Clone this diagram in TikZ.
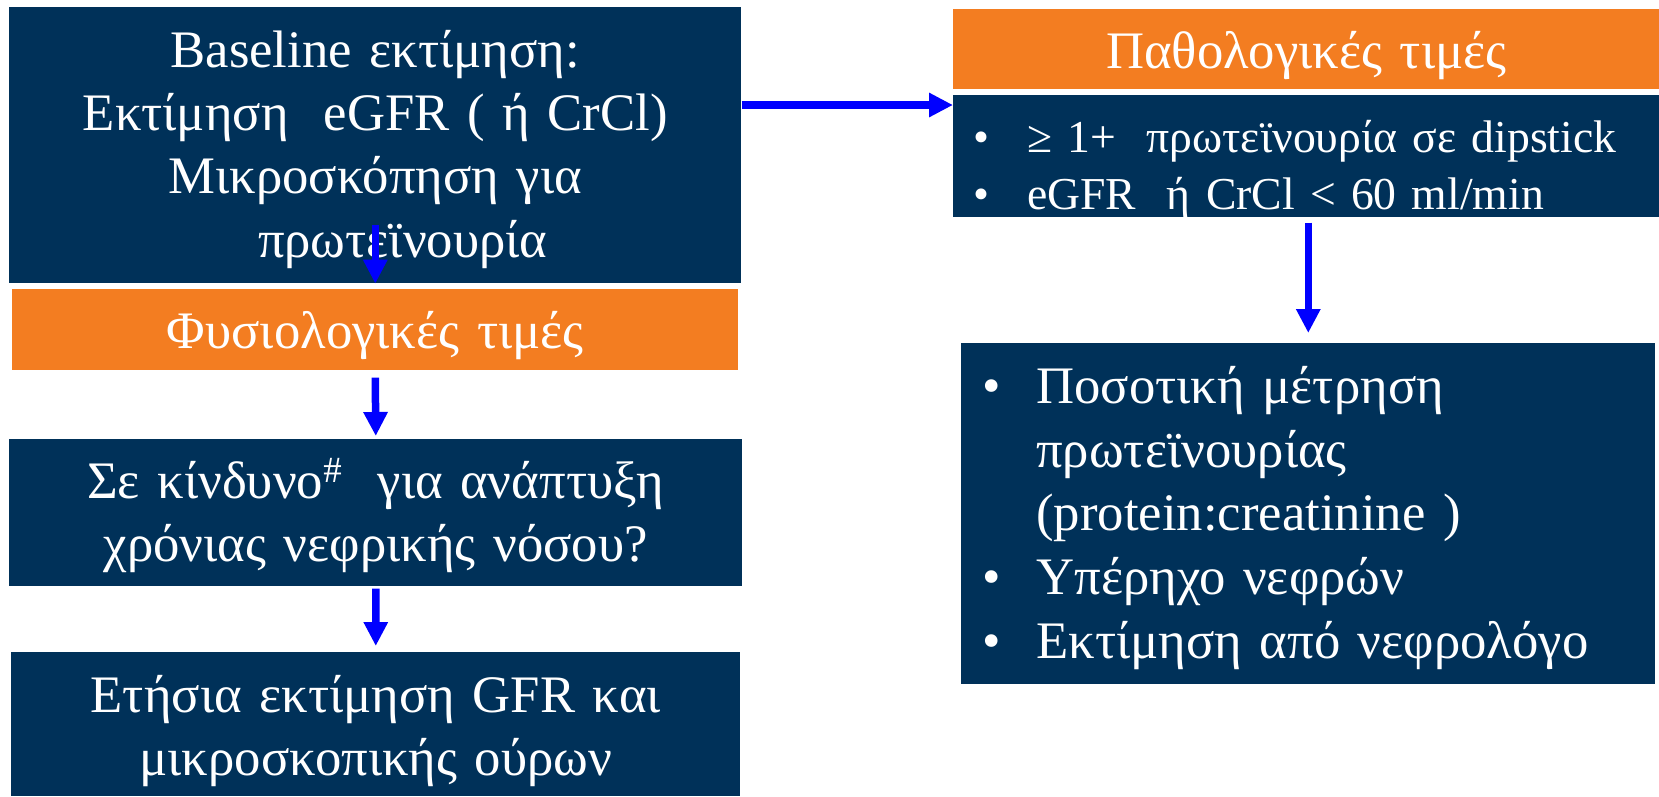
\documentclass[tikz,border=0pt]{standalone}
\usepackage{fontspec}
\setmainfont{Liberation Serif}
\usetikzlibrary{arrows.meta}
\definecolor{navy}{RGB}{0,49,89}
\definecolor{tangerine}{RGB}{243,125,33}
\newcommand{\blt}{\makebox[1.08cm][l]{•}}
\begin{document}
\begin{tikzpicture}[x=0.02cm, y=-0.02cm,
    box/.style={anchor=north west, text=white, inner xsep=0pt, inner ysep=0pt,
      text height=1.2cm, font=\fontsize{30}{36}\selectfont},
    navybox/.style={box, fill=navy},
    orangebox/.style={box, fill=tangerine},
    flow/.style={draw=blue, line width=0.15cm, -{Triangle[length=0.48cm, width=0.46cm]}}]
  \useasboundingbox (0, 0) rectangle (1659, 796);
  % left column
  \node [navybox, text width=14.64cm, align=center, text depth=4.32cm] (base) at (9, 7)
    {Baseline εκτίμηση:\\ Εκτίμηση\ \ eGFR ( ή CrCl)\\ Μικροσκόπηση για\\ \hspace*{1.1cm}πρωτεϊνουρία};
  \node [orangebox, text width=14.52cm, align=center, text height=1.18cm, text depth=0.44cm] (normal) at (12, 289)
    {Φυσιολογικές τιμές};
  \node [navybox, text width=14.66cm, align=center, text height=1.18cm, text depth=1.76cm] (risk) at (9, 439)
    {Σε κίνδυνο\textsuperscript{\#}\ \ για ανάπτυξη\\ χρόνιας νεφρικής νόσου?};
  \node [navybox, text width=14.58cm, align=center, text depth=1.68cm] (yearly) at (11, 652)
    {Ετήσια εκτίμηση GFR και\\ μικροσκοπικής ούρων};
  % right column
  \node [orangebox, text width=14.12cm, align=center, text height=1.18cm, text depth=0.42cm] (abnormal) at (953, 9)
    {Παθολογικές τιμές};
  \node [navybox, inner xsep=0.4cm, text width=13.32cm, align=left, text height=1.14cm, text depth=1.3cm,
      font=\fontsize{26}{32.4}\selectfont] (criteria) at (953, 95)
    {\blt ≥ 1+\ \ πρωτεϊνουρία σε dipstick\\ \blt eGFR\ \ ή CrCl < 60 ml/min};
  \node [navybox, inner xsep=0.42cm, text width=13.04cm, align=left, text depth=5.62cm,
      font=\fontsize{30}{36.3}\selectfont] (workup) at (961, 343)
    {\blt Ποσοτική μέτρηση\\ \hspace*{1.08cm}πρωτεϊνουρίας\\ \hspace*{1.08cm}(protein:creatinine )\\
     \blt Υπέρηχο νεφρών\\ \blt Εκτίμηση από νεφρολόγο};
  % arrows
  \coordinate (entry) at ([yshift=-0.2cm]criteria.north west);
  \coordinate (drop) at (criteria.south -| workup.north);
  \draw [flow] ([yshift=1.18cm]base.south) -- (base.south);
  \draw [flow] ([yshift=-0.14cm]normal.south) -- ([yshift=0.06cm]risk.north);
  \draw [flow] ([yshift=-0.04cm]risk.south) -- ([yshift=0.12cm]yearly.north);
  \draw [flow] (base.east |- entry) -- (entry);
  \draw [flow] ([yshift=-0.1cm]drop) -- ([yshift=0.2cm]workup.north);
\end{tikzpicture}
\end{document}
